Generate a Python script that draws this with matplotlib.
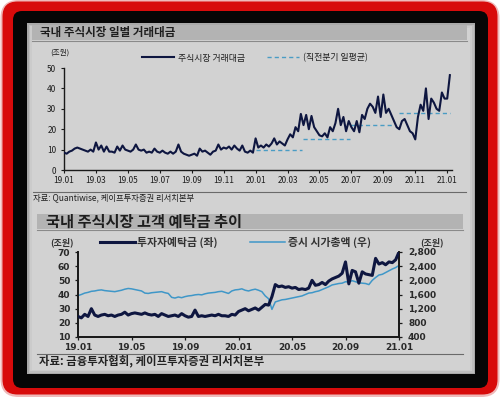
import matplotlib
matplotlib.use('Agg')
import matplotlib.pyplot as plt
from matplotlib.patches import FancyBboxPatch, Rectangle
import numpy as np

plt.rcParams['font.family'] = ['Noto Sans CJK KR', 'DejaVu Sans']

W, H = 500, 399

# ---------------- data: chart 1 (daily trading value, trillion KRW) ----------------
# sampled ~6 points per month
vol_2019 = [8.5, 8.0, 9.0, 9.5, 10.5, 11.0,
            10.5, 10.0, 9.5, 9.0, 10.0, 9.0,
            13.5, 10.0, 12.0, 9.0, 11.5, 9.0,
            9.0, 8.5, 11.5, 9.5, 12.0, 10.0,
            9.5, 9.0, 10.0, 12.5, 10.0, 9.5,
            10.0, 8.5, 9.0, 8.5, 10.5, 9.0,
            8.5, 9.5, 8.5, 8.0, 9.0, 8.0,
            9.0, 12.5, 9.0, 8.0, 7.5, 7.0,
            7.5, 8.0, 7.0, 10.5, 9.0, 9.5,
            8.5, 7.5, 9.0, 9.5, 12.5, 10.0,
            11.0, 10.5, 11.5, 10.0, 12.0, 10.5,
            9.5, 12.0, 9.0, 8.5, 9.5, 8.5]
vol_2020 = [15.5, 11.0, 12.0, 11.0, 12.5, 11.5,
            13.0, 15.5, 12.5, 14.0, 13.0, 12.0,
            15.0, 17.5, 16.0, 21.0, 19.0, 27.5,
            22.0, 27.0, 20.0, 26.5, 21.0, 19.0,
            17.0, 16.5, 18.0, 16.0, 21.0, 19.0,
            23.0, 30.0, 22.0, 26.0, 19.0, 24.0,
            21.0, 19.0, 24.0, 18.5, 27.0, 25.0,
            30.0, 32.5, 31.0, 28.0, 36.0, 26.0,
            37.0, 28.0, 30.0, 27.0, 24.0, 21.0,
            20.0, 24.0, 25.0, 22.0, 19.0, 18.0,
            15.0, 26.0, 32.0, 29.0, 40.0, 25.0,
            35.0, 33.0, 30.0, 29.0, 38.0, 35.0]
vol_2021 = [35.0, 46.5]
vol_per_month = 6

# previous-quarter daily averages (dashed)
avg_values = [9.8, 15.2, 22.0, 27.9]
avg_start_month = [12.0, 14.95, 17.95, 20.95]
avg_end_month = [14.9, 17.9, 20.65, 24.2]

x1_tick_months = [0, 2, 4, 6, 8, 10, 12, 14, 16, 18, 20, 22, 24]
x1_tick_labels = ['19.01', '19.03', '19.05', '19.07', '19.09', '19.11', '20.01',
                  '20.03', '20.05', '20.07', '20.09', '20.11', '21.01']
y1_ticks = [0, 10, 20, 30, 40, 50]

# ---------------- data: chart 2 (customer deposits / market cap) ----------------
# sampled 4 points per month
deposit_2019 = [24.5, 23.5, 26.0, 24.5,
                30.0, 25.5, 24.5, 25.5,
                26.0, 25.0, 25.5, 24.5,
                25.5, 26.0, 27.5, 25.5,
                26.5, 27.0, 26.5, 26.0,
                27.0, 26.0, 25.5, 26.0,
                24.5, 26.5, 25.5, 24.5,
                25.0, 25.5, 24.5, 26.5,
                25.0, 24.0, 24.5, 29.0,
                24.5, 25.0, 24.5, 25.0,
                25.5, 25.0, 26.0, 25.0,
                25.0, 24.5, 26.0, 25.5]
deposit_2020 = [28.0, 29.0, 30.0, 28.5,
                29.5, 30.5, 29.0, 31.0,
                33.0, 32.5, 38.5, 47.0,
                45.5, 46.0, 45.0, 45.5,
                44.5, 45.0, 43.5, 44.0,
                43.5, 44.5, 50.0, 46.5,
                47.0, 48.5, 47.0, 49.5,
                51.0, 52.0, 53.0, 55.0,
                63.0, 47.5, 57.0, 56.0,
                48.0, 56.0, 54.5, 54.0,
                53.5, 65.5, 61.5, 62.5,
                61.0, 63.0, 62.5, 64.5]
deposit_2021 = [70.0]

mktcap_2019 = [1570, 1600, 1640, 1660,
               1690, 1700, 1720, 1730,
               1710, 1700, 1690, 1680,
               1700, 1720, 1750, 1770,
               1760, 1740, 1720, 1700,
               1640, 1630, 1650, 1660,
               1670, 1680, 1650, 1630,
               1520, 1500, 1530, 1510,
               1540, 1560, 1570, 1590,
               1600, 1590, 1620, 1640,
               1650, 1660, 1680, 1690,
               1660, 1630, 1700, 1730]
mktcap_2020 = [1740, 1760, 1720, 1700,
               1730, 1750, 1720, 1680,
               1560, 1480, 1180, 1390,
               1420, 1450, 1460, 1480,
               1500, 1520, 1540, 1560,
               1600, 1640, 1650, 1680,
               1700, 1740, 1780, 1820,
               1870, 1890, 1910, 1920,
               1960, 1950, 1990, 1960,
               1930, 1920, 1910, 1880,
               2000, 2080, 2150, 2170,
               2220, 2270, 2320, 2360]
mktcap_2021 = [2420]
pts_per_month2 = 4

x2_tick_months = [0, 4, 8, 12, 16, 20, 24]
x2_tick_labels = ['19.01', '19.05', '19.09', '20.01', '20.05', '20.09', '21.01']
y2_left_ticks = [10, 20, 30, 40, 50, 60, 70]
y2_right_ticks = [400, 800, 1200, 1600, 2000, 2400, 2800]

NAVY = '#0e1640'
LBLUE = '#3f97c8'
DASH = '#4a9cc4'
TXT = '#1e1e1e'


def rect(l, t, r, b):
    return [l / W, 1 - b / H, (r - l) / W, (b - t) / H]


fig = plt.figure(figsize=(W / 100, H / 100), dpi=100)
fig.patch.set_facecolor('white')

# ---------------- frame / background ----------------
bg = fig.add_axes([0, 0, 1, 1])
bg.set_xlim(0, W)
bg.set_ylim(H, 0)
bg.axis('off')

bg.add_patch(FancyBboxPatch((0.5, 0), 499, 397, boxstyle='round,pad=0,rounding_size=18',
                            fc='#efb9b9', ec='none'))
bg.add_patch(FancyBboxPatch((2.5, 1.5), 495, 393, boxstyle='round,pad=0,rounding_size=15',
                            fc='#d80b0b', ec='none'))
bg.add_patch(FancyBboxPatch((13, 11), 475, 377, boxstyle='round,pad=0,rounding_size=9',
                            fc='#060606', ec='none'))
bg.add_patch(Rectangle((27, 23), 448, 351, fc='#a9a9a9', ec='none'))
bg.add_patch(Rectangle((28.5, 24.5), 445, 348, fc='#bdbdbd', ec='none'))
bg.add_patch(Rectangle((30, 26), 442, 345, fc='#cbcbcb', ec='none'))
bg.add_patch(Rectangle((32, 27.5), 438, 342, fc='#d2d2d2', ec='none'))

# title bar 1
bg.add_patch(Rectangle((32, 25), 435, 15, fc='#b3b3b3', ec='none'))
bg.plot([32, 467], [40.5, 40.5], color='#8a8a8a', lw=0.8)
bg.text(40, 32.5, '국내 주식시장 일별 거래대금', fontsize=8.3, fontweight='bold',
        va='center', ha='left', color=TXT)
bg.text(50, 53, '(조원)', fontsize=5.5, va='center', ha='left', color=TXT)

# source 1
bg.plot([33, 466], [192, 192], color='#6a6a6a', lw=0.8)
bg.text(33, 197.5, '자료: Quantiwise, 케이프투자증권 리서치본부', fontsize=6,
        va='center', ha='left', color=TXT)

# title bar 2
bg.add_patch(Rectangle((37, 214), 426, 15, fc='#b3b3b3', ec='none'))
bg.plot([37, 463], [229.5, 229.5], color='#8a8a8a', lw=0.8)
bg.text(46, 221.5, '국내 주식시장 고객 예탁금 추이', fontsize=11, fontweight='bold',
        va='center', ha='left', color=TXT)
bg.text(50, 242, '(조원)', fontsize=6.5, fontweight='bold', va='center', ha='left', color='#333333')
bg.text(420, 242, '(조원)', fontsize=6.5, fontweight='bold', va='center', ha='left', color='#333333')

# source 2
bg.plot([37, 463], [354, 354], color='#6a6a6a', lw=0.8)
bg.text(39, 360.5, '자료: 금융투자협회, 케이프투자증권 리서치본부', fontsize=8.2, fontweight='bold',
        va='center', ha='left', color='#222222')

# ---------------- chart 1 ----------------
vol = np.array(vol_2019 + vol_2020 + vol_2021)
x_vol = np.arange(len(vol)) / vol_per_month

ax1 = fig.add_axes(rect(64, 68, 452, 170))
ax1.set_facecolor('none')
ax1.plot(x_vol, vol, color=NAVY, lw=1.5, label='주식시장 거래대금', zorder=3)
for i, (v, s, e) in enumerate(zip(avg_values, avg_start_month, avg_end_month)):
    ax1.plot([s, e], [v, v], color=DASH, lw=1.0, ls=(0, (3, 2.2)),
             label='(직전분기 일평균)' if i == 0 else None, zorder=2)
ax1.set_xlim(0, 24.3)
ax1.set_ylim(0, 50)
ax1.set_xticks(x1_tick_months)
ax1.set_xticklabels(x1_tick_labels)
ax1.set_yticks(y1_ticks)
for sp in ['top', 'right']:
    ax1.spines[sp].set_visible(False)
for sp in ['left', 'bottom']:
    ax1.spines[sp].set_color('#1a1a1a')
    ax1.spines[sp].set_linewidth(1.0)
ax1.tick_params(axis='both', direction='out', length=2.5, width=0.8, color='#1a1a1a',
                labelsize=6, labelcolor=TXT)
ax1.tick_params(axis='y', pad=3)
ax1.tick_params(axis='x', pad=1.5)
leg1 = ax1.legend(loc='center left', bbox_to_anchor=(142 / W, 1 - 58 / H),
                  bbox_transform=fig.transFigure, ncol=2, frameon=False, fontsize=6.4,
                  handlelength=3.6, handletextpad=0.5, columnspacing=2.4,
                  borderpad=0, borderaxespad=0)
for t in leg1.get_texts():
    t.set_color(TXT)

# ---------------- chart 2 ----------------
dep = np.array(deposit_2019 + deposit_2020 + deposit_2021)
cap = np.array(mktcap_2019 + mktcap_2020 + mktcap_2021)
x_dep = np.arange(len(dep)) / pts_per_month2
x_cap = np.arange(len(cap)) / pts_per_month2

ax2 = fig.add_axes(rect(78, 252, 399, 337))
ax2.set_facecolor('none')
ax2r = ax2.twinx()
ax2r.set_facecolor('none')

l_cap, = ax2r.plot(x_cap, cap, color=LBLUE, lw=1.1, label='증시 시가총액 (우)', zorder=2)
l_dep, = ax2.plot(x_dep, dep, color=NAVY, lw=2.2, label='투자자예탁금 (좌)', zorder=3)
ax2.set_zorder(ax2r.get_zorder() + 1)

ax2.set_xlim(0, 24)
ax2.set_ylim(10, 70)
ax2r.set_ylim(400, 2800)
ax2.set_xticks(x2_tick_months)
ax2.set_xticklabels(x2_tick_labels)
ax2.set_yticks(y2_left_ticks)
ax2r.set_yticks(y2_right_ticks)
ax2r.set_yticklabels([f'{v:,}' for v in y2_right_ticks])

for a in (ax2, ax2r):
    a.spines['top'].set_visible(False)
    for sp in ['left', 'right', 'bottom']:
        a.spines[sp].set_color('#1a1a1a')
        a.spines[sp].set_linewidth(1.3)
    a.tick_params(axis='both', direction='out', length=2.5, width=0.9, color='#1a1a1a',
                  labelsize=6.5, labelcolor='#2a2a2a')
    for lab in a.get_xticklabels() + a.get_yticklabels():
        lab.set_family('DejaVu Sans')
        lab.set_fontweight('bold')
ax2.tick_params(axis='y', pad=3)
ax2r.tick_params(axis='y', pad=4)
ax2.tick_params(axis='x', pad=1.5)

leg2 = ax2.legend(handles=[l_dep, l_cap], loc='center left',
                  bbox_to_anchor=(100 / W, 1 - 242 / H), bbox_transform=fig.transFigure,
                  ncol=2, frameon=False, fontsize=7.8, handlelength=3.2, handletextpad=0.25,
                  columnspacing=3.0, borderpad=0, borderaxespad=0)
for t in leg2.get_texts():
    t.set_color('#333333')
    t.set_fontweight('bold')

fig.savefig('out.png', dpi=100, facecolor=fig.get_facecolor())
